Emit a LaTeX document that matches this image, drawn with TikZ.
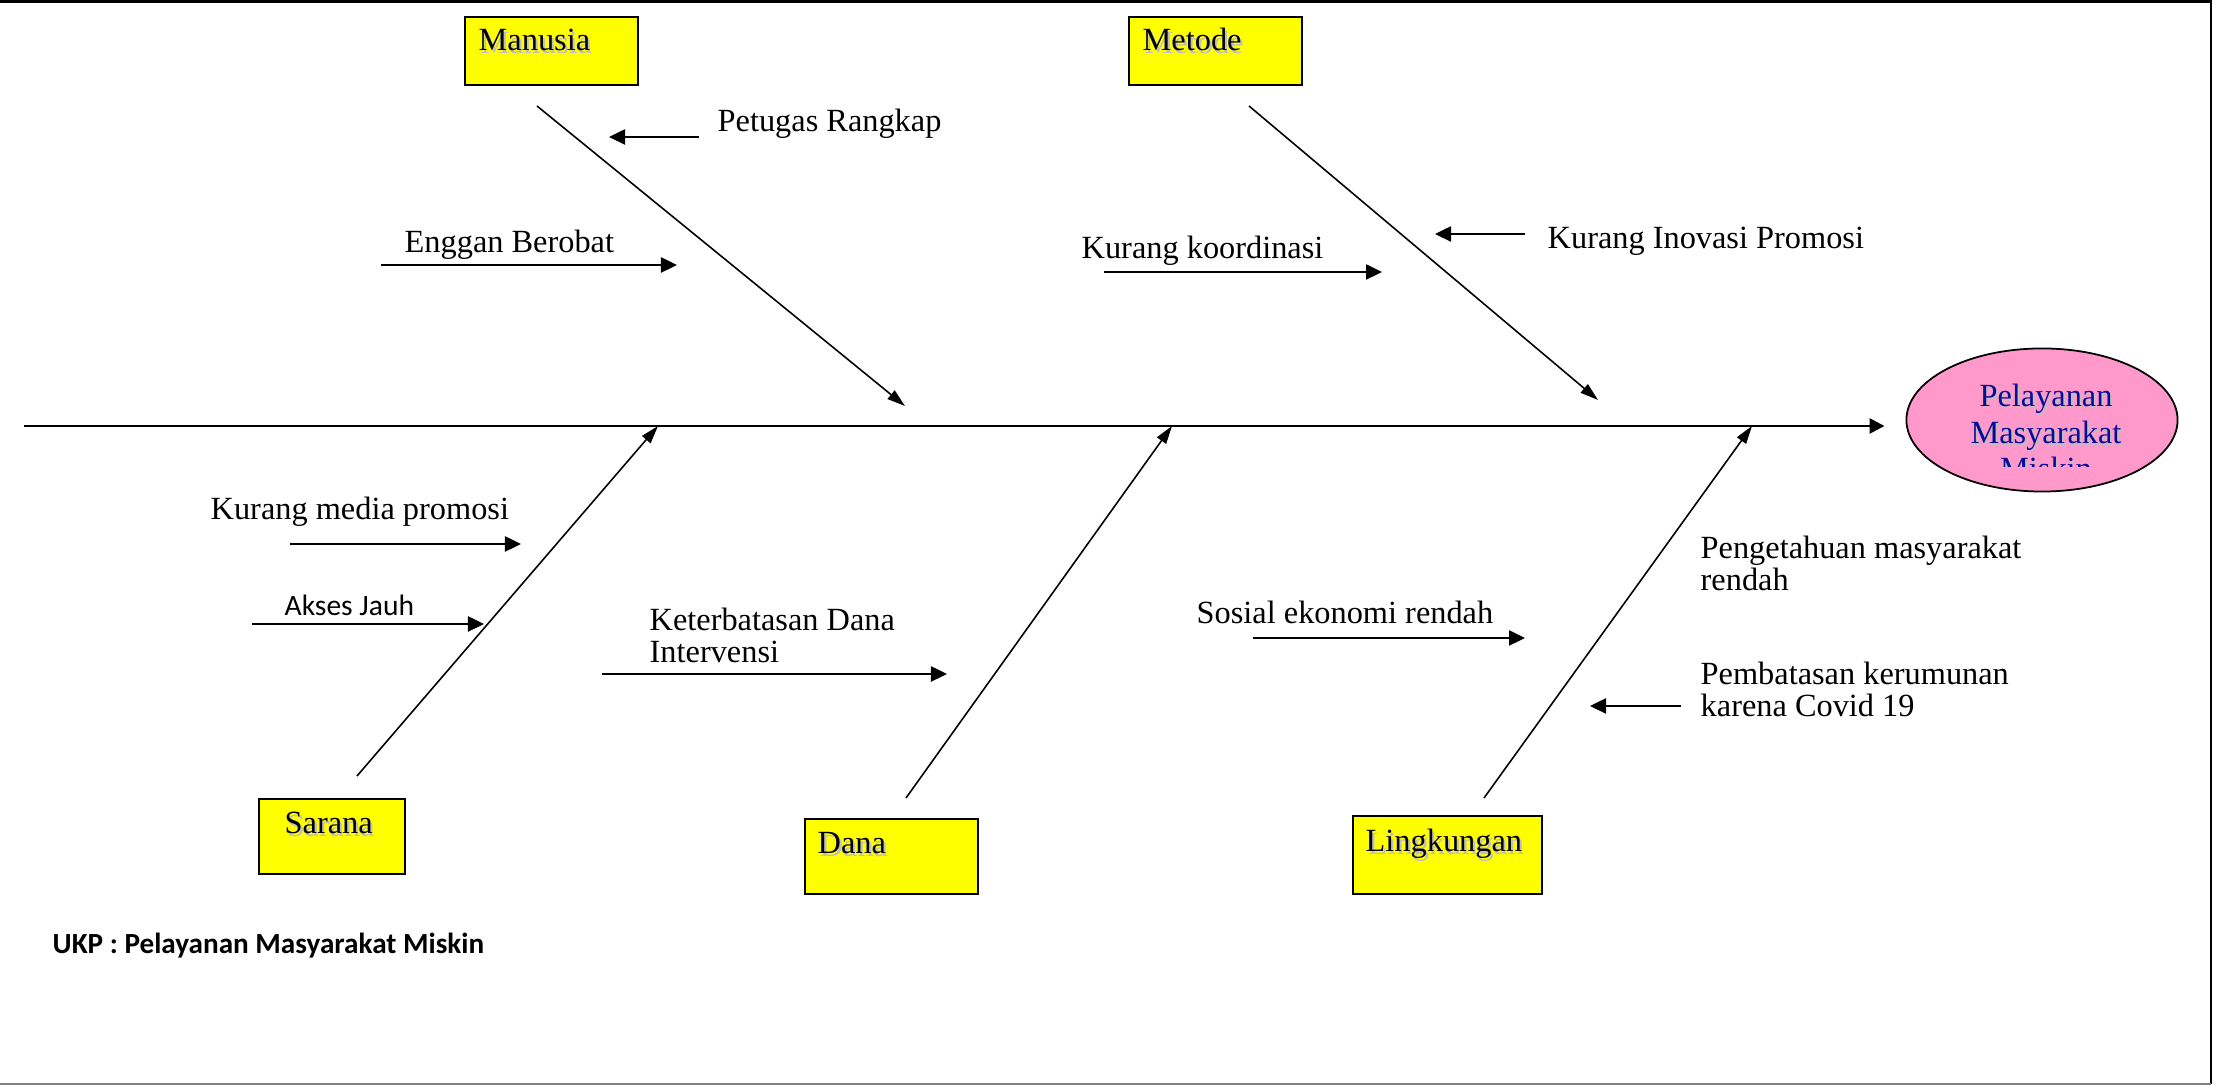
\documentclass[tikz,border=0pt]{standalone}
\usepackage{fontspec}
\setmainfont{Liberation Serif}
\newfontfamily\ukpfont{Carlito}
\usepackage{tikz}
\usetikzlibrary{arrows.meta,shapes.geometric}
\usetikzlibrary{positioning,calc}
\definecolor{boxyellow}{RGB}{255,255,0}
\definecolor{effectpink}{RGB}{255,153,204}
\definecolor{effectblue}{RGB}{10,10,150}
\newcommand{\shadowed}[1]{\makebox[0pt][l]{\hspace{0.6pt}\raisebox{-0.6pt}{\textcolor{black!25}{#1}}}#1}
\tikzset{
    category/.style={
           rectangle,
           draw=black, line width=0.6pt,
           fill=boxyellow,
           anchor=north west,
           inner sep=0pt,
           },
    catlabel/.style={
           anchor=base west,
           inner sep=0pt,
           font=\fontsize{9.2}{10.5}\selectfont,
           },
    cause/.style={
           anchor=base west,
           inner sep=0pt,
           align=left,
           font=\fontsize{9.2}{9.1}\selectfont,
           },
    effect/.style={
           ellipse,
           draw=black, line width=0.5pt,
           fill=effectpink,
           minimum width=2.71cm,
           minimum height=1.43cm,
           inner sep=0pt,
           },
    bone/.style={-{Triangle[length=0.18cm,width=0.11cm]}, line width=0.45pt},
    subarrow/.style={-{Triangle[length=0.16cm,width=0.15cm]}, line width=0.7pt},
    spine/.style={-{Triangle[length=0.15cm,width=0.15cm]}, line width=0.75pt},
}

\begin{document}
\begin{tikzpicture}[x=0.01cm,y=-0.01cm]
  \useasboundingbox (0,0) rectangle (2214,1086);
  \draw[line width=0.6pt] (0,1.5) -- (2211,1.5) -- (2211,1084);
  \draw[gray, line width=0.5pt] (0,1084) -- (2211,1084);

  % categories
  \node[category, minimum width=1.73cm, minimum height=0.68cm] (manusia) at (464,16) {};
  \node[category, minimum width=1.73cm, minimum height=0.68cm] (metode) at (1128,16) {};
  \node[category, minimum width=1.46cm, minimum height=0.75cm] (sarana) at (258,798) {};
  \node[category, minimum width=1.73cm, minimum height=0.75cm] (dana) at (804,818) {};
  \node[category, minimum width=1.89cm, minimum height=0.78cm] (lingkungan) at (1352,815) {};
  \node[catlabel] (manusia-t) at ($(manusia.north west)+(14,35)$) {\shadowed{Manusia}};
  \node[catlabel] (metode-t) at ($(metode.north west)+(14,35)$) {\shadowed{Metode}};
  \node[catlabel] (sarana-t) at ($(sarana.north west)+(26,36)$) {\shadowed{Sarana}};
  \node[catlabel] (dana-t) at ($(dana.north west)+(13,36)$) {\shadowed{Dana}};
  \node[catlabel] (lingkungan-t) at ($(lingkungan.north west)+(13,37)$) {\shadowed{Lingkungan}};

  \node[effect] (akibat) at (2042,420) {};
  \begin{scope}
    \clip (1900,340) rectangle (2190,467);
    \node[cause, anchor=base, align=center, text=effectblue,
      font=\fontsize{9.2}{10.5}\selectfont] (akibat-t) at (2046,480)
      {\shadowed{Pelayanan}\\\shadowed{Masyarakat}\\\shadowed{Miskin}};
  \end{scope}

  % spine and bones
  \coordinate (tail) at (24,426);
  \draw[spine, shorten >=0.21cm] (tail) -- (tail -| akibat.west);
  \coordinate (manusia-a) at (537,106);
  \coordinate (manusia-b) at (905,406);
  \coordinate (metode-a) at (1249,106);
  \coordinate (metode-b) at (1598,400);
  \coordinate (sarana-a) at (357,776);
  \coordinate (sarana-b) at (658,426);
  \coordinate (dana-a) at (906,798);
  \coordinate (dana-b) at (1172,426);
  \coordinate (lingkungan-a) at (1484,798);
  \coordinate (lingkungan-b) at (1752,426);
  \foreach \c in {manusia,metode,sarana,dana,lingkungan}
    \draw[bone] (\c-a) -- (\c-b);

  % causes
  \node[cause] (petugas) at (717,132) {Petugas Rangkap};
  \node[cause] (enggan) at (404,253) {Enggan Berobat};
  \node[cause] (koordinasi) at (1081,259) {Kurang koordinasi};
  \node[cause] (inovasi) at (1547,249) {Kurang Inovasi Promosi};
  \node[cause] (media) at (210,520) {Kurang media promosi};
  \node[cause, font=\ukpfont\fontsize{8.4}{9.1}\selectfont] (akses) at (284,616) {Akses Jauh};
  \node[cause] (keterbatasan) at (649,663) {Keterbatasan Dana\\Intervensi};
  \node[cause] (sosial) at (1196,624) {Sosial ekonomi rendah};
  \node[cause] (pengetahuan) at (1700,591) {Pengetahuan masyarakat\\rendah};
  \node[cause] (pembatasan) at (1700,717) {Pembatasan kerumunan\\karena Covid 19};

  \coordinate (petugas-a) at (699,137);
  \coordinate (petugas-b) at (609,137);
  \coordinate (enggan-a) at (381,265);
  \coordinate (enggan-b) at (677,265);
  \coordinate (koordinasi-a) at (1104,272);
  \coordinate (koordinasi-b) at (1382,272);
  \coordinate (inovasi-a) at (1525,234);
  \coordinate (inovasi-b) at (1435,234);
  \coordinate (media-a) at (290,544);
  \coordinate (media-b) at (521,544);
  \coordinate (akses-a) at (252,624);
  \coordinate (akses-b) at (484,624);
  \coordinate (keterbatasan-a) at (602,674);
  \coordinate (keterbatasan-b) at (947,674);
  \coordinate (sosial-a) at (1253,638);
  \coordinate (sosial-b) at (1525,638);
  \coordinate (pembatasan-a) at (1681,706);
  \coordinate (pembatasan-b) at (1590,706);
  \foreach \c in {petugas,enggan,koordinasi,inovasi,media,akses,keterbatasan,sosial,pembatasan}
    \draw[subarrow] (\c-a) -- (\c-b);

  \node[cause, font=\ukpfont\bfseries\fontsize{8.3}{9.1}\selectfont] (ukp) at (52,954)
    {UKP : Pelayanan Masyarakat Miskin};
\end{tikzpicture}
\end{document}
